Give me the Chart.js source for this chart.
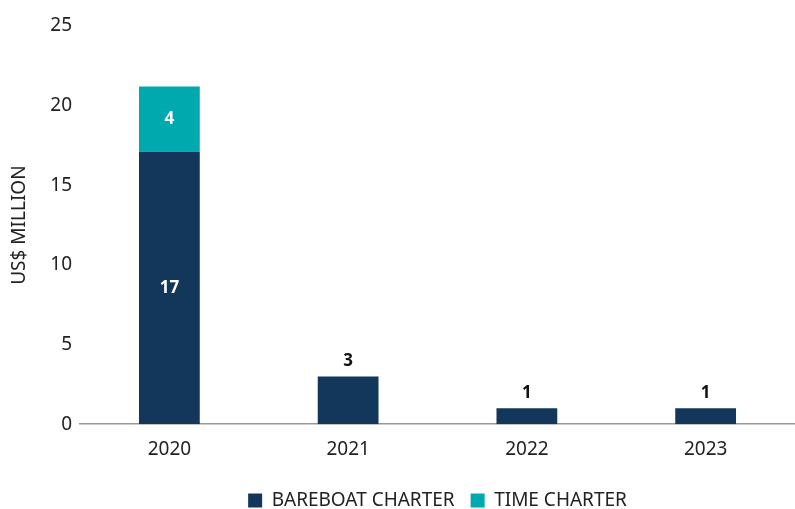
<!DOCTYPE html>
<html>
<head>
<meta charset="utf-8">
<script src="https://cdn.jsdelivr.net/npm/chart.js@4"></script>
<style>
  html, body { margin: 0; padding: 0; background: #fff; }
  #wrap { width: 795px; height: 509px; }
</style>
</head>
<body>
<div id="wrap"><canvas id="chart"></canvas></div>
<script>
const years = ['2020', '2021', '2022', '2023'];
const bareboat = [17.1, 3, 1, 1];
const timeCharter = [4.1, 0, 0, 0];
const bareboatLabels = ['17', '3', '1', '1'];
const timeLabels = ['4', '', '', ''];
const yTicks = [0, 5, 10, 15, 20, 25];

const NAVY = '#13375b';
const TEAL = '#00a9ad';
const FONT = "'Noto Sans', 'Liberation Sans', sans-serif";

// value labels: inside for the big 2020 stack, above the bar for the small ones
const valueLabels = {
    id: 'valueLabels',
    afterDatasetsDraw(chart) {
        const ctx = chart.ctx;
        ctx.save();
        ctx.font = 'bold 17px ' + FONT;
        ctx.textAlign = 'center';
        ctx.textBaseline = 'middle';
        const texts = [bareboatLabels, timeLabels];
        chart.data.datasets.forEach((ds, di) => {
            chart.getDatasetMeta(di).data.forEach((bar, i) => {
                const t = texts[di][i];
                if (!t) return;
                const h = bar.base - bar.y;
                if (h > 55) {
                    ctx.fillStyle = '#ffffff';
                    ctx.fillText(t, bar.x, (bar.y + bar.base) / 2);
                } else {
                    ctx.fillStyle = '#111111';
                    ctx.fillText(t, bar.x, bar.y - 15);
                }
            });
        });
        ctx.restore();
    }
};

new Chart(document.getElementById('chart').getContext('2d'), {
    type: 'bar',
    data: {
        labels: years,
        datasets: [
            {
                label: 'BAREBOAT CHARTER',
                data: bareboat,
                backgroundColor: NAVY,
                barPercentage: 0.34,
                categoryPercentage: 1
            },
            {
                label: 'TIME CHARTER',
                data: timeCharter,
                backgroundColor: TEAL,
                barPercentage: 0.34,
                categoryPercentage: 1
            }
        ]
    },
    options: {
        responsive: true,
        maintainAspectRatio: false,
        animation: false,
        layout: { padding: { top: 26, right: 0, left: 8, bottom: -11 } },
        plugins: {
            legend: {
                position: 'bottom',
                fullSize: false,
                labels: {
                    color: '#222',
                    font: { family: FONT, size: 19 },
                    boxWidth: 14,
                    boxHeight: 14,
                    padding: 16
                }
            },
            tooltip: { enabled: false }
        },
        scales: {
            x: {
                stacked: true,
                grid: { display: false, drawTicks: false },
                border: { color: '#999', width: 1.5 },
                ticks: {
                    color: '#222',
                    font: { family: FONT, size: 19 },
                    padding: 14
                }
            },
            y: {
                stacked: true,
                min: 0,
                max: 25,
                afterBuildTicks(scale) {
                    scale.ticks = yTicks.map(v => ({ value: v }));
                },
                afterFit(scale) {
                    scale.width = 72;
                },
                grid: { display: false, drawTicks: false },
                border: { display: false },
                title: {
                    display: true,
                    text: 'US$ MILLION',
                    color: '#222',
                    font: { family: FONT, size: 19 },
                    padding: 0
                },
                ticks: {
                    color: '#222',
                    font: { family: FONT, size: 19 },
                    padding: 8
                }
            }
        }
    },
    plugins: [valueLabels]
});
</script>
</body>
</html>
